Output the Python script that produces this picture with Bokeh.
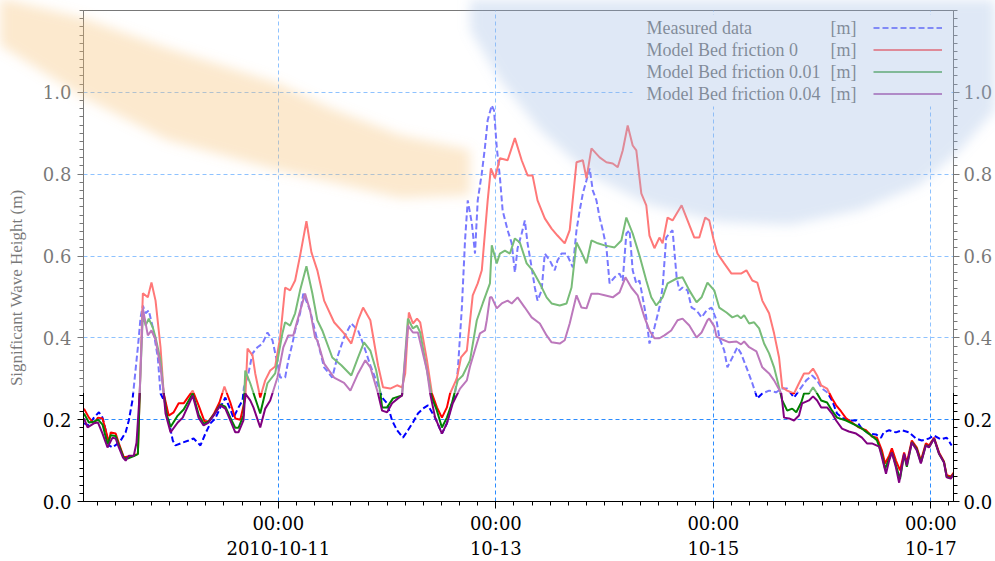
import numpy as np
from bokeh.plotting import figure
from bokeh.models import (Range1d, LinearAxis, FixedTicker, BoxAnnotation, Label, Legend,
                          LegendItem, PrintfTickFormatter, InlineStyleSheet)
from bokeh.embed import file_html
from bokeh.resources import INLINE

# Time axis: hours since 2010-10-09 00:00
measured_hours = [5.1, 6.2, 7.3, 8.4, 9.2, 9.9, 10.6, 11.4, 12.6, 13.2, 14.3, 15.0, 15.8, 17.0, 17.6,
                  18.1, 18.7, 19.4, 20.3, 21.4, 22.0, 23.1, 23.8, 24.7, 25.3, 26.9, 28.2, 29.3, 30.8,
                  31.9, 33.0, 34.1, 35.2, 36.3, 37.4, 38.1, 39.2, 40.1, 40.4, 41.2, 42.3, 43.4, 44.5,
                  45.6, 46.7, 47.8, 48.4, 49.5, 50.2, 51.1, 51.7, 52.8, 53.5, 54.4, 55.0, 56.6, 58.1,
                  59.9, 61.0, 62.5, 64.1, 65.6, 66.7, 68.3, 70.0, 70.9, 72.0, 73.1, 74.2, 75.5, 76.6,
                  77.7, 78.8, 79.9, 81.0, 82.6, 84.1, 85.2, 86.3, 87.0, 87.6, 88.5, 89.2, 89.8, 90.7,
                  91.4, 92.0, 92.9, 93.6, 94.2, 95.1, 95.6, 96.2, 96.9, 97.5, 98.6, 99.5, 100.2, 100.8,
                  101.7, 102.4, 103.0, 103.9, 104.6, 105.2, 106.1, 106.8, 107.9, 109.0, 109.6, 110.5,
                  111.6, 112.3, 113.0, 113.8, 114.5, 115.2, 116.0, 116.7, 117.4, 118.2, 118.9, 119.6,
                  120.4, 121.1, 122.2, 123.3, 124.0, 124.8, 125.5, 126.2, 127.0, 127.7, 128.4, 129.2,
                  129.9, 131.0, 132.1, 132.8, 133.6, 134.3, 135.0, 135.9, 136.5, 137.2, 138.3, 139.2,
                  140.3, 141.4, 142.5, 143.6, 144.7, 145.3, 146.4, 147.1, 148.2, 149.3, 150.1, 151.3,
                  152.6, 153.7, 154.8, 156.3, 157.9, 159.0, 160.3, 161.8, 163.4, 164.5, 165.8, 166.9,
                  168.0, 169.1, 170.2, 171.3, 172.4, 173.9, 175.5, 176.8, 178.3, 179.9, 181.0, 181.6,
                  182.8, 184.3, 185.6, 187.2, 188.7, 190.0, 191.6, 192.7, 194.2, 195.5, 196.6]
measured_hs = [0.191, 0.186, 0.205, 0.218, 0.205, 0.174, 0.137, 0.132, 0.142, 0.149, 0.169, 0.198, 0.247,
               0.377, 0.450, 0.479, 0.460, 0.467, 0.425, 0.352, 0.264, 0.240, 0.198, 0.149, 0.137, 0.144,
               0.149, 0.154, 0.137, 0.166, 0.191, 0.203, 0.230, 0.254, 0.225, 0.205, 0.230, 0.247, 0.279,
               0.303, 0.362, 0.377, 0.386, 0.413, 0.394, 0.337, 0.303, 0.303, 0.345, 0.386, 0.418, 0.460,
               0.508, 0.484, 0.467, 0.394, 0.328, 0.303, 0.352, 0.401, 0.435, 0.418, 0.386, 0.333, 0.284,
               0.254, 0.240, 0.198, 0.174, 0.156, 0.174, 0.193, 0.215, 0.227, 0.235, 0.205, 0.166, 0.191,
               0.240, 0.264, 0.320, 0.474, 0.638, 0.736, 0.680, 0.606, 0.736, 0.802, 0.866, 0.932, 0.968,
               0.956, 0.866, 0.792, 0.711, 0.663, 0.631, 0.560, 0.619, 0.655, 0.687, 0.631, 0.572, 0.523,
               0.491, 0.516, 0.606, 0.589, 0.565, 0.589, 0.606, 0.606, 0.589, 0.572, 0.663, 0.711, 0.753,
               0.785, 0.814, 0.760, 0.736, 0.694, 0.663, 0.621, 0.533, 0.548, 0.557, 0.540, 0.655, 0.663,
               0.565, 0.533, 0.540, 0.499, 0.450, 0.386, 0.425, 0.474, 0.523, 0.645, 0.655, 0.663, 0.548,
               0.516, 0.523, 0.516, 0.474, 0.467, 0.450, 0.467, 0.474, 0.443, 0.401, 0.369, 0.328, 0.352,
               0.377, 0.362, 0.328, 0.289, 0.252, 0.264, 0.271, 0.267, 0.276, 0.276, 0.254, 0.279, 0.296,
               0.308, 0.296, 0.276, 0.267, 0.247, 0.215, 0.205, 0.198, 0.198, 0.178, 0.166, 0.164, 0.156,
               0.169, 0.174, 0.169, 0.174, 0.169, 0.154, 0.149, 0.154, 0.161, 0.152, 0.156, 0.137]

bf0_hours = [5.1, 6.2, 7.3, 8.2, 9.2, 9.9, 10.6, 11.0, 12.1, 12.8, 13.9, 15.0, 16.1, 17.0, 17.4, 18.1,
             19.2, 20.0, 20.9, 22.0, 22.7, 23.8, 24.9, 26.0, 27.1, 29.1, 30.4, 31.7, 32.6, 33.7, 35.0,
             36.1, 37.4, 38.5, 39.6, 40.7, 41.2, 42.3, 42.9, 44.0, 45.1, 46.2, 47.3, 48.4, 49.5, 50.6,
             51.7, 52.8, 54.2, 55.3, 56.6, 58.1, 60.3, 62.5, 64.1, 65.6, 66.7, 68.3, 70.0, 71.1, 72.7,
             74.2, 75.3, 76.0, 76.8, 77.7, 78.6, 79.3, 80.8, 81.9, 83.0, 84.1, 85.2, 85.9, 87.4, 88.3,
             89.6, 90.9, 92.0, 92.9, 94.2, 94.9, 95.8, 96.9, 98.6, 100.2, 101.7, 103.0, 104.1, 105.2,
             106.8, 108.3, 109.6, 111.2, 112.3, 113.8, 115.2, 116.0, 117.1, 118.9, 120.4, 121.8, 122.9,
             124.0, 125.1, 126.2, 127.0, 128.1, 129.2, 129.9, 131.0, 132.1, 132.8, 133.9, 135.0, 137.0,
             138.3, 139.8, 140.9, 142.2, 143.1, 144.0, 144.9, 146.4, 148.0, 150.1, 151.3, 152.6, 153.7,
             154.8, 156.3, 157.4, 158.5, 159.2, 160.3, 161.8, 162.9, 164.0, 165.1, 166.0, 166.9, 167.8,
             169.1, 170.2, 171.1, 172.2, 173.3, 174.6, 176.1, 177.7, 179.0, 180.1, 181.2, 181.9, 182.8,
             183.4, 184.3, 185.2, 186.1, 186.7, 187.8, 188.9, 189.8, 190.9, 191.6, 192.7, 193.8, 194.9,
             195.5, 196.4, 197.1]
bf0_hs = [0.227, 0.205, 0.191, 0.205, 0.203, 0.174, 0.144, 0.169, 0.166, 0.142, 0.108, 0.110, 0.112,
          0.117, 0.264, 0.509, 0.499, 0.535, 0.491, 0.377, 0.264, 0.210, 0.218, 0.240, 0.240, 0.271,
          0.235, 0.196, 0.196, 0.213, 0.242, 0.281, 0.242, 0.203, 0.200, 0.252, 0.374, 0.357, 0.313,
          0.254, 0.296, 0.320, 0.330, 0.401, 0.523, 0.516, 0.540, 0.601, 0.685, 0.609, 0.565, 0.491,
          0.438, 0.411, 0.386, 0.443, 0.474, 0.443, 0.333, 0.279, 0.276, 0.284, 0.279, 0.313, 0.462,
          0.435, 0.447, 0.438, 0.345, 0.264, 0.230, 0.205, 0.230, 0.264, 0.301, 0.352, 0.369, 0.504,
          0.533, 0.565, 0.736, 0.814, 0.790, 0.839, 0.834, 0.888, 0.834, 0.797, 0.797, 0.736, 0.692,
          0.667, 0.650, 0.631, 0.663, 0.829, 0.834, 0.790, 0.863, 0.841, 0.829, 0.826, 0.817, 0.858,
          0.919, 0.870, 0.858, 0.753, 0.724, 0.650, 0.619, 0.645, 0.631, 0.694, 0.687, 0.724, 0.687,
          0.645, 0.645, 0.694, 0.687, 0.643, 0.606, 0.582, 0.557, 0.557, 0.565, 0.540, 0.535, 0.491,
          0.460, 0.411, 0.352, 0.279, 0.271, 0.264, 0.289, 0.313, 0.313, 0.325, 0.308, 0.284, 0.276,
          0.252, 0.235, 0.220, 0.203, 0.193, 0.181, 0.174, 0.159, 0.156, 0.125, 0.093, 0.112, 0.130,
          0.100, 0.076, 0.120, 0.095, 0.149, 0.132, 0.100, 0.142, 0.137, 0.156, 0.120, 0.098, 0.064,
          0.061, 0.071]

bf001_hours = [5.1, 6.2, 7.3, 8.2, 9.2, 10.3, 11.0, 12.1, 12.8, 13.9, 15.0, 16.1, 17.0, 17.4, 18.1,
               18.7, 19.4, 20.3, 20.9, 22.0, 22.7, 23.3, 24.2, 25.8, 27.1, 29.1, 30.4, 31.5, 32.6, 33.7,
               35.2, 36.3, 37.4, 38.5, 39.2, 40.3, 40.7, 41.8, 44.0, 45.6, 47.3, 48.9, 49.5, 50.6, 51.7,
               52.8, 54.2, 55.5, 56.6, 57.7, 59.9, 61.9, 64.1, 65.6, 66.9, 68.3, 69.6, 70.5, 70.9, 72.0,
               73.3, 75.3, 76.6, 77.7, 78.6, 79.3, 80.8, 81.9, 83.0, 84.1, 85.2, 86.3, 87.6, 88.7, 90.3,
               91.8, 93.1, 94.7, 95.1, 96.2, 96.9, 98.0, 99.1, 100.2, 101.3, 102.8, 104.1, 105.7, 107.2,
               108.3, 110.1, 111.6, 112.7, 113.8, 114.9, 116.0, 117.1, 118.5, 120.0, 122.2, 123.7, 124.8,
               126.2, 127.7, 129.2, 130.3, 131.4, 132.8, 133.9, 135.9, 137.2, 138.7, 140.3, 141.4, 142.7,
               144.2, 145.3, 146.9, 148.2, 149.3, 150.1, 150.8, 151.9, 153.0, 154.1, 155.2, 156.3, 157.4,
               158.5, 159.2, 160.3, 161.4, 162.3, 163.4, 164.0, 165.1, 166.0, 166.9, 167.8, 169.1, 170.2,
               171.3, 173.3, 175.5, 176.8, 178.3, 180.1, 181.2, 181.9, 182.8, 183.4, 184.3, 185.2, 186.1,
               186.7, 187.8, 188.9, 189.8, 190.9, 191.6, 192.7, 193.8, 194.9, 195.5, 196.4, 197.1]
bf001_hs = [0.215, 0.193, 0.195, 0.200, 0.188, 0.140, 0.162, 0.160, 0.138, 0.106, 0.106, 0.111, 0.116,
            0.262, 0.460, 0.430, 0.447, 0.425, 0.401, 0.345, 0.264, 0.215, 0.182, 0.210, 0.225, 0.264,
            0.213, 0.190, 0.195, 0.211, 0.237, 0.232, 0.205, 0.180, 0.180, 0.210, 0.320, 0.289, 0.215,
            0.289, 0.313, 0.411, 0.438, 0.430, 0.460, 0.516, 0.575, 0.509, 0.443, 0.418, 0.352, 0.333,
            0.308, 0.352, 0.389, 0.369, 0.320, 0.267, 0.230, 0.230, 0.252, 0.259, 0.447, 0.423, 0.430,
            0.413, 0.320, 0.254, 0.222, 0.181, 0.205, 0.240, 0.296, 0.308, 0.345, 0.443, 0.484, 0.533,
            0.626, 0.582, 0.606, 0.613, 0.606, 0.643, 0.633, 0.582, 0.565, 0.533, 0.499, 0.484, 0.479,
            0.484, 0.523, 0.633, 0.609, 0.582, 0.638, 0.631, 0.626, 0.621, 0.638, 0.694, 0.655, 0.601,
            0.540, 0.499, 0.479, 0.499, 0.533, 0.545, 0.548, 0.516, 0.487, 0.499, 0.535, 0.516, 0.474,
            0.462, 0.450, 0.455, 0.448, 0.455, 0.435, 0.438, 0.423, 0.386, 0.362, 0.328, 0.279, 0.247,
            0.222, 0.227, 0.218, 0.242, 0.264, 0.264, 0.279, 0.264, 0.247, 0.242, 0.222, 0.205, 0.198,
            0.186, 0.178, 0.166, 0.150, 0.115, 0.080, 0.105, 0.120, 0.088, 0.055, 0.115, 0.085, 0.145,
            0.128, 0.095, 0.138, 0.133, 0.154, 0.117, 0.096, 0.060, 0.058, 0.068]

bf004_hours = [5.1, 5.9, 7.3, 8.2, 9.2, 10.3, 11.4, 12.1, 12.8, 13.7, 14.3, 15.0, 16.1, 16.7, 17.4,
               18.1, 19.2, 20.0, 20.9, 22.0, 22.7, 23.1, 24.2, 25.8, 26.9, 29.1, 30.4, 31.5, 32.6, 33.7,
               35.2, 36.3, 37.4, 38.5, 39.2, 40.3, 40.7, 41.8, 42.5, 44.0, 45.1, 46.2, 47.8, 49.1, 50.2,
               51.3, 52.4, 53.9, 55.0, 56.1, 56.6, 58.1, 60.3, 62.5, 63.9, 65.6, 67.2, 68.3, 70.0, 70.9,
               72.0, 73.1, 74.4, 75.3, 76.6, 77.7, 78.8, 80.8, 81.5, 82.6, 84.1, 85.2, 86.5, 88.1, 89.6,
               90.3, 91.8, 92.5, 93.6, 94.0, 94.7, 95.1, 96.2, 97.3, 98.6, 99.5, 100.8, 102.4, 103.9,
               105.7, 107.2, 108.3, 110.1, 111.2, 112.3, 113.8, 114.9, 116.0, 117.1, 118.5, 120.0, 121.8,
               123.3, 124.6, 125.9, 127.3, 128.8, 129.9, 131.0, 132.1, 133.2, 134.7, 136.1, 137.2, 138.7,
               140.3, 141.4, 142.7, 143.1, 144.2, 144.7, 146.0, 147.5, 149.1, 150.1, 150.8, 151.9, 153.5,
               154.8, 156.3, 157.4, 159.0, 159.6, 160.7, 161.8, 162.9, 163.6, 165.1, 166.0, 166.9, 167.8,
               169.1, 170.2, 171.1, 172.4, 173.9, 175.5, 176.8, 177.9, 179.0, 180.6, 181.2, 182.1, 182.8,
               183.4, 184.3, 185.0, 186.1, 186.7, 187.8, 188.9, 189.8, 190.9, 191.6, 192.7, 193.8, 194.9,
               195.5, 196.4, 197.1]
bf004_hs = [0.203, 0.181, 0.191, 0.193, 0.166, 0.132, 0.156, 0.154, 0.132, 0.108, 0.100, 0.112, 0.112,
            0.144, 0.264, 0.472, 0.406, 0.418, 0.396, 0.328, 0.264, 0.215, 0.169, 0.193, 0.205, 0.259,
            0.205, 0.186, 0.193, 0.210, 0.235, 0.227, 0.198, 0.169, 0.169, 0.198, 0.264, 0.247, 0.230,
            0.181, 0.227, 0.247, 0.303, 0.377, 0.406, 0.406, 0.450, 0.508, 0.467, 0.401, 0.394, 0.337,
            0.303, 0.290, 0.271, 0.313, 0.345, 0.328, 0.264, 0.222, 0.218, 0.240, 0.252, 0.259, 0.430,
            0.413, 0.413, 0.320, 0.264, 0.205, 0.166, 0.191, 0.240, 0.276, 0.296, 0.330, 0.386, 0.411,
            0.418, 0.443, 0.499, 0.499, 0.472, 0.484, 0.491, 0.484, 0.499, 0.474, 0.450, 0.435, 0.406,
            0.389, 0.386, 0.394, 0.435, 0.504, 0.474, 0.472, 0.508, 0.508, 0.504, 0.499, 0.511, 0.548,
            0.523, 0.504, 0.450, 0.418, 0.399, 0.399, 0.406, 0.418, 0.443, 0.447, 0.430, 0.401, 0.413,
            0.443, 0.447, 0.428, 0.403, 0.396, 0.389, 0.391, 0.384, 0.391, 0.377, 0.367, 0.328, 0.313,
            0.296, 0.264, 0.205, 0.203, 0.198, 0.210, 0.240, 0.247, 0.257, 0.247, 0.230, 0.230, 0.215,
            0.198, 0.178, 0.171, 0.166, 0.156, 0.142, 0.142, 0.134, 0.108, 0.068, 0.100, 0.120, 0.083,
            0.046, 0.117, 0.088, 0.144, 0.125, 0.093, 0.137, 0.132, 0.154, 0.117, 0.095, 0.059, 0.056,
            0.068]

x_major = [48, 96, 144, 192]
x_labels = ["00:00\n2010-10-11", "00:00\n10-13", "00:00\n10-15", "00:00\n10-17"]
y_major = [0.0, 0.2, 0.4, 0.6, 0.8, 1.0]

legend_names = ["Measured data", "Model Bed friction 0", "Model Bed friction 0.01", "Model Bed friction 0.04"]
unit_text = "[m]"
y_title = "Significant Wave Height (m)"

SERIF = "Liberation Serif"
TICK_FONT = "DejaVu Serif"
W, H = 995, 561
FL, FR, FT, FB = 83, 955, 10, 501  # frame edges in page pixels


def fx(cx):
    return cx - FL


def fy(cy):
    return FB - cy


p = figure(width=W, height=H, output_backend="svg", toolbar_location=None,
           x_range=Range1d(5.0, 197.0), y_range=Range1d(0.0, 1.2),
           min_border_left=FL, min_border_right=W - FR, min_border_top=FT, min_border_bottom=H - FB)
p.background_fill_color = "white"
p.border_fill_color = "white"
p.outline_line_color = "black"
p.outline_line_width = 1

xt = FixedTicker(ticks=x_major, minor_ticks=list(np.arange(8, 197, 4)))
yt = FixedTicker(ticks=y_major, minor_ticks=list(np.round(np.arange(0, 1.201, 0.02), 2)))

xa = p.xaxis[0]
xa.ticker = xt
xa.major_label_overrides = {v: s for v, s in zip(x_major, x_labels)}
ya = p.yaxis[0]
ya.ticker = yt
ya.formatter = PrintfTickFormatter(format="%.1f")
ra = LinearAxis(ticker=yt, formatter=PrintfTickFormatter(format="%.1f"))
p.add_layout(ra, "right")

for ax in (xa, ya, ra):
    ax.axis_line_color = "black"
    ax.major_tick_line_color = "black"
    ax.minor_tick_line_color = "black"
    ax.major_tick_in = 0
    ax.minor_tick_in = 0
    ax.major_tick_out = 6
    ax.minor_tick_out = 4
    ax.major_label_text_font = TICK_FONT
    ax.major_label_text_font_size = "18px"
    ax.major_label_text_color = "black"
xa.major_tick_out = 7
xa.major_label_standoff = 4
xa.major_label_text_line_height = 1.2
ya.major_label_standoff = 6
ra.major_label_standoff = 4

# axis title, padded with no-break spaces so that it sits lower along the axis
ya.axis_label = y_title + "\u00a0" * 15
ya.axis_label_text_font = SERIF
ya.axis_label_text_font_size = "17px"
ya.axis_label_text_font_style = "normal"
ya.axis_label_text_color = "black"
ya.axis_label_standoff = 14

for g in (p.xgrid[0], p.ygrid[0]):
    g.grid_line_color = "#2b8cff"
    g.grid_line_dash = "4 3"
    g.grid_line_width = 1
p.xgrid[0].ticker = xt
p.ygrid[0].ticker = yt

r_meas = p.line(measured_hours, measured_hs, line_color="#0000ff", line_width=2, line_dash="6 3")
r_bf0 = p.line(bf0_hours, bf0_hs, line_color="#ff0000", line_width=2)
r_bf001 = p.line(bf001_hours, bf001_hs, line_color="#008000", line_width=2)
r_bf004 = p.line(bf004_hours, bf004_hs, line_color="#800080", line_width=2)

# legend panel: opaque background, names and units as text, line samples on the right
p.add_layout(BoxAnnotation(left=fx(632), right=fx(950), top=fy(14), bottom=fy(106),
                           left_units="screen", right_units="screen", top_units="screen",
                           bottom_units="screen", fill_color="white", fill_alpha=1.0, line_alpha=0))
row_y = [27.5, 49.5, 71.5, 93.5]
for name, cy in zip(legend_names, row_y):
    p.add_layout(Label(x=fx(646), y=fy(cy), x_units="screen", y_units="screen", text=name,
                       text_font=SERIF, text_font_size="18px", text_baseline="middle",
                       text_color="black"))
    p.add_layout(Label(x=fx(830), y=fy(cy), x_units="screen", y_units="screen", text=unit_text,
                       text_font=SERIF, text_font_size="18px", text_baseline="middle",
                       text_color="black"))
samples = Legend(items=[LegendItem(label=" ", renderers=[r]) for r in (r_meas, r_bf0, r_bf001, r_bf004)],
                 location=(fx(873), fy(18 + 85)), orientation="vertical",
                 glyph_width=69, glyph_height=19, label_height=19, label_width=1, spacing=3,
                 padding=0, margin=0, label_standoff=0, label_text_font_size="2px",
                 background_fill_alpha=0, border_line_alpha=0)
p.add_layout(samples)

# faded logo watermark lying over the upper part of the page
orange_band = [(0, -2), (83, 18), (167, 48), (277, 83), (330, 108), (400, 135), (470, 150),
               (470, 195), (400, 198), (330, 182), (277, 170), (167, 140), (83, 97), (0, 45)]
blue_arc = [(470, 0), (995, 0), (995, 110), (960, 150), (920, 185), (860, 210), (790, 225),
            (720, 222), (650, 205), (590, 175), (540, 130), (500, 80), (470, 30)]


def pts(seq):
    return " ".join(f"{a},{b}" for a, b in seq)


HAZE_H = 393
svg = (f"<svg xmlns='http://www.w3.org/2000/svg' width='{W}' height='{HAZE_H}'>"
       "<defs><filter id='s' x='-20%' y='-20%' width='140%' height='140%'>"
       "<feGaussianBlur stdDeviation='6'/></filter></defs>"
       f"<rect width='{W}' height='{HAZE_H}' fill='white' fill-opacity='0.47'/>"
       f"<polygon points='{pts(orange_band)}' fill='%23f5be6e' fill-opacity='0.34' filter='url(%23s)'/>"
       f"<polygon points='{pts(blue_arc)}' fill='%2396b4e1' fill-opacity='0.30' filter='url(%23s)'/>"
       "</svg>")
p.stylesheets = [InlineStyleSheet(css=f"""
:host {{ position: relative; }}
:host::after {{
  content: ""; position: absolute; left: 0; top: 0; width: {W}px; height: {HAZE_H}px;
  pointer-events: none; z-index: 10; background-repeat: no-repeat;
  background-image: url("data:image/svg+xml;utf8,{svg}");
}}
""")]

open("out.html", "w").write(file_html(p, INLINE))
